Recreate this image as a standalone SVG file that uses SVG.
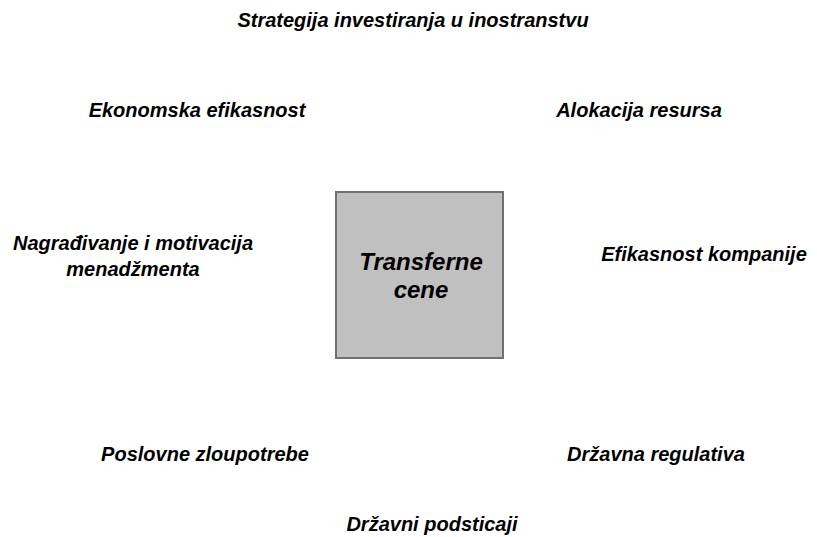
<svg xmlns="http://www.w3.org/2000/svg" width="817" height="537" viewBox="0 0 817 537">
  <style>
    .lbl { font-family: "Liberation Sans", Arial, sans-serif; font-weight: bold; font-style: italic; font-size: 20px; fill: #000; text-anchor: middle; }
    .core { font-family: "Liberation Sans", Arial, sans-serif; font-weight: bold; font-style: italic; font-size: 24px; fill: #000; text-anchor: middle; }
    .box { fill: #c0c0c0; stroke: #707070; stroke-width: 2; }
  </style>
  <rect width="817" height="537" fill="#ffffff"/>

  <!-- central concept -->
  <g id="transferne-cene">
    <rect class="box" x="336" y="192" width="167" height="166"/>
    <text class="core" x="421" y="270">Transferne</text>
    <text class="core" x="421" y="298">cene</text>
  </g>

  <!-- surrounding factors -->
  <g id="strategija">
    <text class="lbl" x="413" y="27">Strategija investiranja u inostranstvu</text>
  </g>
  <g id="ekonomska-efikasnost">
    <text class="lbl" x="197" y="117">Ekonomska efikasnost</text>
  </g>
  <g id="alokacija-resursa">
    <text class="lbl" x="639" y="117">Alokacija resursa</text>
  </g>
  <g id="nagradjivanje">
    <text class="lbl" x="133" y="250">Nagrađivanje i motivacija</text>
    <text class="lbl" x="133" y="276">menadžmenta</text>
  </g>
  <g id="efikasnost-kompanije">
    <text class="lbl" x="704" y="261">Efikasnost kompanije</text>
  </g>
  <g id="poslovne-zloupotrebe">
    <text class="lbl" x="205" y="461">Poslovne zloupotrebe</text>
  </g>
  <g id="drzavna-regulativa">
    <text class="lbl" x="656" y="461">Državna regulativa</text>
  </g>
  <g id="drzavni-podsticaji">
    <text class="lbl" x="432" y="531">Državni podsticaji</text>
  </g>
</svg>
